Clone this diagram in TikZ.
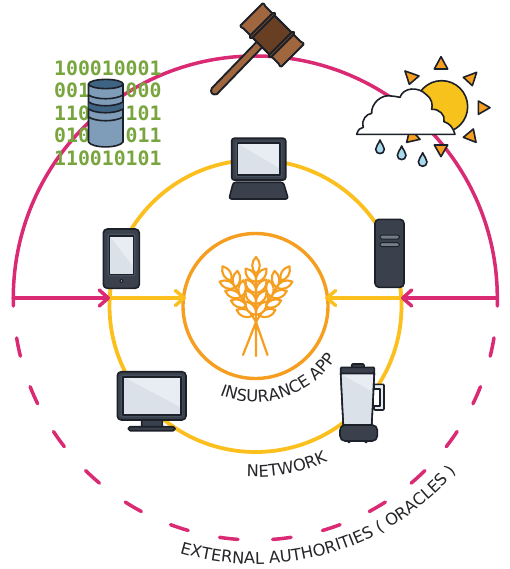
\documentclass[tikz,border=0pt]{standalone}
\usepackage{fontspec}
\setmainfont{DejaVu Sans}
\setmonofont{DejaVu Sans Mono}
\usetikzlibrary{arrows.meta,decorations.text}
\definecolor{pinkc}{HTML}{D92A73}
\definecolor{yellowc}{HTML}{FBBF1E}
\definecolor{orangec}{HTML}{F59E1F}
\definecolor{inkc}{HTML}{1C2028}
\definecolor{bodyc}{HTML}{3A414C}
\definecolor{screenA}{HTML}{DAE1E9}
\definecolor{screenB}{HTML}{E8EDF3}
\definecolor{bezel}{HTML}{46505E}
\definecolor{greenc}{HTML}{79A53F}
\definecolor{dbA}{HTML}{7F9DB9}
\definecolor{dbB}{HTML}{3F6382}
\definecolor{brownA}{HTML}{A0673F}
\definecolor{brownB}{HTML}{693F23}
\definecolor{sunc}{HTML}{F8C21C}
\definecolor{dropc}{HTML}{A9D9EC}
\definecolor{textc}{HTML}{26262A}
\tikzset{
  pinkline/.style={draw=pinkc,line width=3.5pt,line cap=round},
  yellowline/.style={draw=yellowc,line width=3.8pt,line cap=round},
  pinkarrow/.style={pinkline,-{Straight Barb[length=9pt,width=16pt,round]}},
  yellowarrow/.style={yellowline,line width=3.4pt,-{Straight Barb[length=9pt,width=15pt,round]}},
  device/.style={draw=inkc,line width=1.6pt,rounded corners=2.5pt,line join=round},
  ink/.style={draw=inkc,line width=1.6pt,line join=round},
  grain/.style={draw=orangec,fill=white,line width=2.1pt,line join=round},
  bits/.style={anchor=base west,inner sep=0pt,text=greenc,font=\ttfamily\bfseries\fontsize{19.8}{22}\selectfont},
}
\newcommand{\screenpanel}[4]{% x1 y1 x2 y2
  \fill[bezel,rounded corners=1.5pt] (#1-2,#2-2) rectangle (#3+2,#4+2);
  \fill[screenB] (#1,#2) rectangle (#3,#4);
  \fill[screenA] (#1,#2) -- (#3,{#2+0.8*(#4-#2)}) -- (#3,#4) -- (#1,#4) -- cycle;
  \draw[ink] (#1,#2) rectangle (#3,#4);
}
\newcommand{\wheatgrain}[3]{%
  \draw[grain,shift={(#1,#2)},rotate=#3] (0,0) .. controls (-5,-5) and (-5,-12) .. (0,-17) .. controls (5,-12) and (5,-5) .. (0,0) -- cycle;
}
\newcommand{\wheatear}[1]{%
  \begin{scope}[shift={(256,322)},rotate=#1]
    \draw[grain,fill=none] (0,0) -- (0,-50);
    \wheatgrain{0}{-48}{0}
    \foreach \t in {-40,-29,-18,-7}{
      \wheatgrain{0}{\t}{-38}
      \wheatgrain{0}{\t}{38}
    }
  \end{scope}
}
\begin{document}
\begin{tikzpicture}[x=1pt,y=1pt,yscale=-1]
\useasboundingbox (0,0) rectangle (509,569);
\fill[white] (0,0) rectangle (509,569);
% anchor coordinates
\coordinate (c) at (255.5,306);
\coordinate (co) at (255.3,298);
\coordinate (pl) at (13.3,298);
\coordinate (pr) at (497.3,298);
\coordinate (yl) at (110,298);
\coordinate (yr) at (401,298);
\coordinate (al) at (186,298);
\coordinate (ar) at (325,298);
% outer (oracle) ring
\draw[pinkline] (13.3,306) -- (pl) arc[start angle=180,end angle=360,radius=242] -- (497.3,306);
\foreach \a in {9.5,21.5,33.5,45.5,57.5,69.5,81.5}{
  \draw[pinkline] ([shift={(\a:242)}]co) arc[start angle=\a,end angle=\a+4.4,radius=242];
  \draw[pinkline] ([shift={(180-\a:242)}]co) arc[start angle=180-\a,end angle=180-\a-4.4,radius=242];
}
% network ring and app ring
\draw[yellowline] (c) circle[radius=146];
\draw[draw=orangec,line width=3.4pt] (c) circle[radius=72.5];
% arrows
\draw[yellowarrow] (yl) -- (al);
\draw[yellowarrow] (yr) -- (ar);
\draw[pinkarrow] (pl) -- (yl);
\draw[pinkarrow] (pr) -- (yr);
% wheat
\foreach \e in {-31,31}{\wheatear{\e}}
\wheatear{0}
\draw[draw=orangec,line width=2.2pt,line cap=round] (256,322) -- (243,355) (256,322) -- (256,356) (256,322) -- (267.5,355);
% bits
\node[bits] (b1) at (54,75.5) {100010001};
\node[bits] (b2) at (54,98) {001\hphantom{000}000};
\node[bits] (b3) at (54,120.4) {110\hphantom{000}101};
\node[bits] (b4) at (54,142.8) {010\hphantom{000}011};
\node[bits] (b5) at (54,165.2) {110010101};
% database
\draw[ink,fill=dbA] (88.5,84) -- (88.5,142) .. controls (92,148.5) and (119,148.5) .. (123,142) -- (123,84) -- cycle;
\fill[dbB] (88.5,102) .. controls (96,107) and (115,107) .. (123,102) -- (123,109) .. controls (115,114) and (96,114) .. (88.5,109) -- cycle;
\draw[ink] (88.5,95) .. controls (96,100) and (115,100) .. (123,95);
\draw[ink] (88.5,102) .. controls (96,107) and (115,107) .. (123,102);
\draw[ink] (88.5,109) .. controls (96,114) and (115,114) .. (123,109);
\draw[ink] (88.5,117) .. controls (96,122) and (115,122) .. (123,117);
\draw[ink,fill=dbB] (105.8,84) ellipse[x radius=17.3,y radius=4.6];
% gavel
\draw[ink,fill=brownA,line width=1.9pt] (257,41.5) -- (262.5,47) -- (217,94) .. controls (213,96) and (209,92) .. (212,88) -- cycle;
\begin{scope}[shift={(272,35)},rotate=45]
  \draw[ink,fill=brownA,line width=1.9pt,rounded corners=1.5pt]
    (-29,-17) .. controls (-26,-15.5) and (-24,-15.5) .. (-21,-15.5) -- (21,-15.5) .. controls (24,-15.5) and (26,-15.5) .. (29,-17)
    -- (29,17) .. controls (26,15.5) and (24,15.5) .. (21,15.5) -- (-21,15.5) .. controls (-24,15.5) and (-26,15.5) .. (-29,17) -- cycle;
  \fill[brownB] (-12,-15) rectangle (12,15);
  \draw[ink,line width=1.9pt] (-12,-15.5) -- (12,-15.5) (-12,15.5) -- (12,15.5);
  \draw[ink,fill=brownB!70!brownA,line width=1.9pt,rounded corners=1.5pt] (-15,-17.5) rectangle (-12,17.5);
  \draw[ink,fill=brownB!70!brownA,line width=1.9pt,rounded corners=1.5pt] (12,-17.5) rectangle (15,17.5);
\end{scope}
% weather
\begin{scope}[shift={(255,0)},scale=1/3]
  \foreach \p in {
    {(558,170) -- (538,207) -- (578,207)},
    {(450,213) -- (492,228) -- (463,253)},
    {(665,217) -- (625,232) -- (652,257)},
    {(705,323) -- (670,303) -- (670,343)},
    {(663,427) -- (625,412) -- (655,387)},
    {(558,470) -- (538,435) -- (578,435)},
    {(455,427) -- (495,418) -- (465,385)}}{
    \draw[ink,fill=orangec] \p -- cycle;
  }
  \draw[ink,fill=sunc] (560,320) circle[radius=78];
  \draw[ink,fill=white] (305,403) .. controls (310,385) and (318,385) .. (325,382)
    .. controls (318,358) and (335,342) .. (350,340)
    .. controls (348,310) and (380,282) .. (408,288)
    .. controls (415,288) and (425,290) .. (435,292)
    .. controls (445,262) and (490,258) .. (515,285)
    .. controls (530,295) and (534,315) .. (530,328)
    .. controls (552,326) and (572,345) .. (567,365)
    .. controls (585,370) and (595,385) .. (600,403) -- cycle;
  \foreach \x/\y in {375/420,440/438,503/458}{
    \draw[ink,fill=dropc] (\x,\y) .. controls (\x+4,\y+12) and (\x+13,\y+18) .. (\x+13,\y+28)
      .. controls (\x+13,\y+45) and (\x-13,\y+45) .. (\x-13,\y+28)
      .. controls (\x-13,\y+18) and (\x-4,\y+12) .. (\x,\y) -- cycle;
  }
\end{scope}
% laptop
\draw[device,fill=bodyc] (231.7,138.3) rectangle (285.7,180);
\screenpanel{237.3}{143.3}{280}{175}
\draw[device,fill=bodyc] (233.3,182.3) -- (283.3,182.3) -- (288.3,199) -- (229,199) -- cycle;
% tablet
\draw[device,fill=bodyc,rounded corners=4pt] (103.3,229) rectangle (139.3,288.3);
\screenpanel{109.3}{235.7}{133.3}{274.3}
\draw[ink,fill=white,line width=1.2pt] (121.5,281) circle[radius=1.8];
% tower
\draw[device,fill=bodyc,rounded corners=4pt] (375,219.3) rectangle (404,287.3);
\draw[draw=inkc,fill=bezel!75!white,line width=1pt,rounded corners=1.5pt] (380,235) rectangle (399.3,239);
\draw[draw=inkc,fill=bezel!75!white,line width=1pt,rounded corners=1.5pt] (380,242.7) rectangle (399.3,246.7);
% monitor
\draw[device,fill=bodyc] (141.7,418) rectangle (162.3,428.3);
\draw[device,fill=bodyc,rounded corners=1.8pt] (128.3,426.7) rectangle (175,430.7);
\draw[device,fill=bodyc,rounded corners=4pt] (117.3,371.7) rectangle (186,420);
\screenpanel{122.7}{376.7}{180.7}{415}
% blender
\draw[ink,fill=screenB,rounded corners=1pt] (374,384.3) rectangle (384,410);
\draw[ink,fill=white] (373,389) rectangle (380,406);
\draw[ink,fill=screenB] (340.7,373.3) -- (374.3,373.3) -- (371.7,425) -- (343.3,425) -- cycle;
\fill[screenA] (341.5,374.5) -- (372.8,392) -- (371,424) -- (344,424) -- cycle;
\draw[ink] (340.7,373.3) -- (374.3,373.3) -- (371.7,425) -- (343.3,425) -- cycle;
\draw[device,fill=bodyc,rounded corners=1pt] (351.7,364) rectangle (364,368);
\draw[device,fill=bodyc,rounded corners=1pt] (340.7,367.3) rectangle (374.3,373.3);
\draw[ink,fill=bodyc] (349,441) circle[radius=1.6] (366,441) circle[radius=1.6];
\draw[device,fill=bodyc,rounded corners=5pt] (340,425) rectangle (377.3,441);
% curved labels
\path[decorate,decoration={text along path,text={|\fontsize{16.4}{16.4}\selectfont\color{textc}|INSURANCE APP}}]
  ([shift={(112:96)}]c) arc[start angle=112,end angle=15,radius=96];
\path[decorate,decoration={text along path,text={|\fontsize{16.3}{16.3}\selectfont\color{textc}|NETWORK}}]
  ([shift={(93:171)}]c) arc[start angle=93,end angle=50,radius=171];
\path[decorate,decoration={text along path,text={|\fontsize{16.3}{16.3}\selectfont\color{textc}|EXTERNAL AUTHORITIES ( ORACLES )}}]
  ([shift={(106.5:266)}]co) arc[start angle=106.5,end angle=25,radius=266];
\end{tikzpicture}
\end{document}
